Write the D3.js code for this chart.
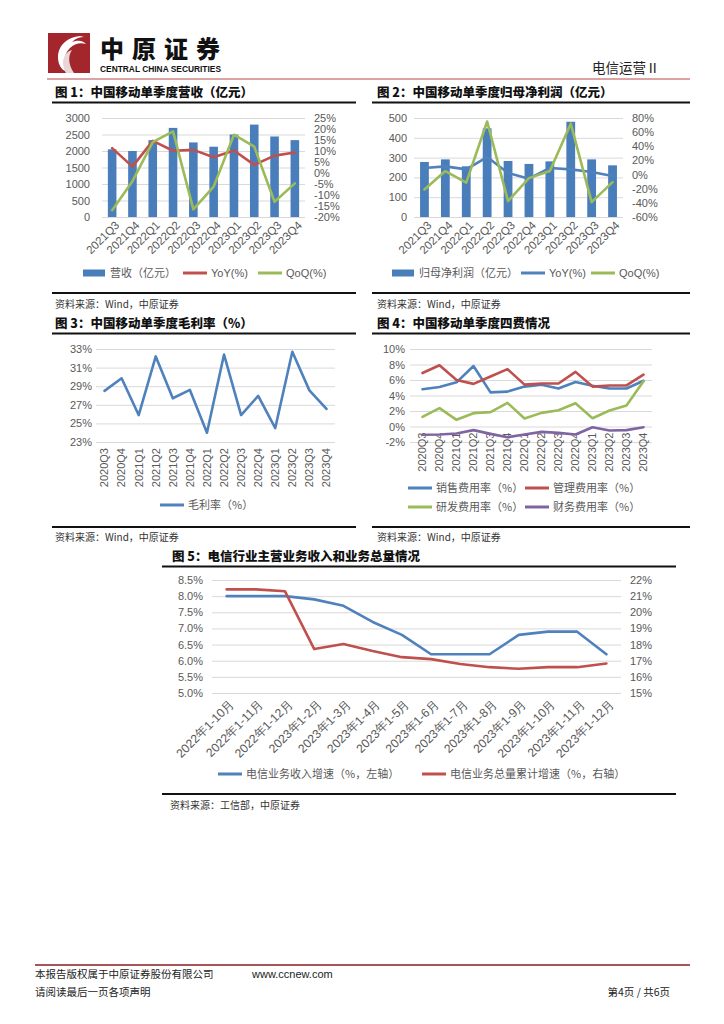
<!DOCTYPE html>
<html><head><meta charset="utf-8">
<script src="https://cdn.jsdelivr.net/npm/d3@7"></script>
<style>
body{margin:0;background:#fff;}
</style>
</head><body><svg id="page" width="724" height="1024"></svg>
<script>
// ---------- DATA ----------
const quartersA = ["2021Q3","2021Q4","2022Q1","2022Q2","2022Q3","2022Q4","2023Q1","2023Q2","2023Q3","2023Q4"];
const revenue = [2050,2000,2330,2700,2260,2130,2500,2800,2440,2330];
const revenueYoY = [11.3,2.9,14.6,10.1,10.5,7.2,10.2,3.7,7.9,9.3];
const revenueQoQ = [-16.9,-3.7,14.0,18.9,-16.5,-6.2,17.4,12.0,-13.1,-4.7];

const netProfit = [278,291,256,448,283,268,281,481,291,261];
const profitYoY = [9.3,11.6,7.4,24.8,2.2,-5.8,9.3,7.4,3.6,-2.0];
const profitQoQ = [-21,5,-11.5,75,-37.5,-5,5,72,-39,-10.6];

const quartersB = ["2020Q3","2020Q4","2021Q1","2021Q2","2021Q3","2021Q4","2022Q1","2022Q2","2022Q3","2022Q4","2023Q1","2023Q2","2023Q3","2023Q4"];
const grossMargin = [28.5,29.85,25.9,32.2,27.7,28.6,24.0,32.4,25.9,27.95,24.5,32.7,28.55,26.55];

const sellingRate = [4.8,5.1,5.7,7.8,4.4,4.5,5.15,5.4,4.9,5.75,5.25,4.9,4.9,5.9];
const adminRate = [6.9,7.9,6.0,5.5,6.45,7.4,5.4,5.55,5.55,7.05,5.15,5.3,5.3,6.7];
const rdRate = [1.25,2.37,0.86,1.72,1.85,3.05,1.03,1.76,2.1,3.0,1.07,2.06,2.7,5.85];
const financeRate = [-1.07,-1.03,-0.9,-0.47,-0.95,-1.38,-1.03,-0.69,-0.82,-1.03,-0.09,-0.52,-0.47,-0.09];

const months = ["2022年1-10月","2022年1-11月","2022年1-12月","2023年1-2月","2023年1-3月","2023年1-4月","2023年1-5月","2023年1-6月","2023年1-7月","2023年1-8月","2023年1-9月","2023年1-10月","2023年1-11月","2023年1-12月"];
const telecomRevenueGrowth = [8.0,8.0,8.0,7.9,7.7,7.2,6.8,6.2,6.2,6.2,6.8,6.9,6.9,6.2];
const telecomVolumeGrowth = [21.42,21.42,21.3,17.72,18.03,17.6,17.22,17.1,16.8,16.6,16.5,16.6,16.6,16.83];

const ticksRevenue = [0,500,1000,1500,2000,2500,3000];
const ticksRevPct = [-20,-15,-10,-5,0,5,10,15,20,25];
const ticksProfit = [0,100,200,300,400,500];
const ticksProfitPct = [-60,-40,-20,0,20,40,60,80];
const ticksMargin = [23,25,27,29,31,33];
const ticksFee = [-2,0,2,4,6,8,10];
const ticksLeft5 = [5.0,5.5,6.0,6.5,7.0,7.5,8.0,8.5];
const ticksRight5 = [15,16,17,18,19,20,21,22];

// ---------- STYLE ----------
const C = {bar:"#4A7EBB", red:"#C0504D", green:"#9BBB59", blue:"#4F81BD", purple:"#8064A2", grid:"#D9D9D9", txt:"#595959"};
const LAT = '"Liberation Sans", Arial, sans-serif';
const CJK = '"Noto Sans CJK SC", sans-serif';
const svg = d3.select("#page");
svg.append("rect").attr("width",724).attr("height",1024).attr("fill","#fff");

// ---------- HEADER ----------
svg.append("rect").attr("x",48).attr("y",33).attr("width",42).attr("height",40).attr("fill","#A3262C");
svg.append("path").attr("d","M80,36 C62,38 54,52 60,66 C63,72 70,73 74,73 L70,73 C64,66 62,56 70,48 C74,44 80,42 86,44 C82,40 78,40 72,42 C76,38 80,37 84,37 Z").attr("fill","#fff");
svg.append("path").attr("d","M66,73 C60,62 64,52 72,50 C68,56 68,64 74,73 Z").attr("fill","#e9d6d6");
svg.append("text").attr("x",100).attr("y",58).text("中原证券").attr("font-family",CJK).attr("font-weight",900).attr("font-size",24).attr("letter-spacing",8).attr("fill","#111");
svg.append("text").attr("x",100).attr("y",72).text("CENTRAL CHINA SECURITIES").attr("font-family",LAT).attr("font-weight","bold").attr("font-size",8.4).attr("fill","#111");
svg.append("text").attr("x",592).attr("y",73).text("电信运营Ⅱ").attr("font-family",CJK).attr("font-size",13.5).attr("fill","#222");
svg.append("line").attr("x1",47).attr("x2",690).attr("y1",79).attr("y2",79).attr("stroke","#B8484B").attr("stroke-width",1.2);

// ---------- helpers ----------
function hline(x1,x2,y,w){ svg.append("line").attr("x1",x1).attr("x2",x2).attr("y1",y).attr("y2",y).attr("stroke","#111").attr("stroke-width",w); }
function title(x,y,t){ svg.append("text").attr("x",x).attr("y",y).text(t).attr("font-family",CJK).attr("font-weight",900).attr("font-size",12.5).attr("fill","#111"); }
function source(x,y,t){ svg.append("text").attr("x",x).attr("y",y).text(t).attr("font-family",CJK).attr("font-size",10).attr("fill","#333"); }
function styleAxis(a){
  a.attr("font-family",LAT).attr("font-size",11);
  a.select(".domain").remove();
  a.selectAll(".tick text").attr("fill",C.txt);
}
function leftGrid(y,x0,x1,ticks,fmt,gap){
  const a = svg.append("g").attr("transform",`translate(${x0},0)`)
    .call(d3.axisLeft(y).tickValues(ticks).tickFormat(fmt).tickSize(-(x1-x0)).tickPadding(gap));
  styleAxis(a);
  a.selectAll(".tick line").attr("stroke",C.grid).attr("stroke-width",1);
  return a;
}
function rightAxis(y,x1,ticks,fmt,gap){
  const a = svg.append("g").attr("transform",`translate(${x1},0)`)
    .call(d3.axisRight(y).tickValues(ticks).tickFormat(fmt).tickSize(0).tickPadding(gap));
  styleAxis(a);
  return a;
}
function catAxis(x,yPos,rot,dx,dy,size){
  const a = svg.append("g").attr("transform",`translate(0,${yPos})`)
    .call(d3.axisBottom(x).tickSize(0));
  styleAxis(a);
  a.attr("font-size",size||11);
  a.selectAll(".tick text").attr("x",0).attr("y",0).attr("dy","0.35em")
    .attr("text-anchor","end").attr("transform",`translate(${dx},${dy}) rotate(${rot})`);
  return a;
}
function line(x,y,data,color,w){
  svg.append("path").datum(data).attr("fill","none").attr("stroke",color).attr("stroke-width",w||2.6)
    .attr("stroke-linejoin","round").attr("stroke-linecap","round")
    .attr("d",d3.line().x((d,i)=>x(i)).y(d=>y(d)));
}
function legendLine(x,y,color,label,font){
  svg.append("line").attr("x1",x).attr("x2",x+24).attr("y1",y).attr("y2",y).attr("stroke",color).attr("stroke-width",3);
  svg.append("text").attr("x",x+28).attr("y",y+4).text(label).attr("font-family",font||CJK).attr("font-size",11).attr("fill",C.txt);
}
function legendBar(x,y,label){
  svg.append("rect").attr("x",x).attr("y",y-3.5).attr("width",22).attr("height",7).attr("fill",C.bar);
  svg.append("text").attr("x",x+27).attr("y",y+4).text(label).attr("font-family",CJK).attr("font-size",11).attr("fill",C.txt);
}
const pct = d=>d+"%";

// ---------- CHART 1 ----------
title(55,97,"图 1：中国移动单季度营收（亿元）");
hline(52,356,102.5,2);
{
  const x0=102,x1=305,yT=118,yB=217;
  const xc = d3.scaleBand().domain(quartersA).range([x0,x1]);
  const xi = i=>xc(quartersA[i])+xc.bandwidth()/2;
  const y = d3.scaleLinear().domain([0,3000]).range([yB,yT]);
  const y2 = d3.scaleLinear().domain([-20,25]).range([yB,yT]);
  leftGrid(y,x0,x1,ticksRevenue,d3.format("d"),12);
  rightAxis(y2,x1,ticksRevPct,pct,9);
  svg.append("g").selectAll("rect").data(revenue).join("rect")
    .attr("x",(d,i)=>xi(i)-4.3).attr("width",8.6).attr("y",d=>y(d)).attr("height",d=>yB-y(d)).attr("fill",C.bar);
  line(xi,y2,revenueYoY,C.red);
  line(xi,y2,revenueQoQ,C.green);
  catAxis(xc,yB,-45,5,6,11.5);
  legendBar(83,273,"营收（亿元）");
  legendLine(183,273,C.red,"YoY(%)",LAT);
  legendLine(258,273,C.green,"QoQ(%)",LAT);
}
hline(52,356,293,2);
source(55,308,"资料来源：Wind，中原证券");

// ---------- CHART 2 ----------
title(377,97,"图 2：中国移动单季度归母净利润（亿元）");
hline(372,690,102.5,2);
{
  const x0=414,x1=623,yT=118,yB=217;
  const xc = d3.scaleBand().domain(quartersA).range([x0,x1]);
  const xi = i=>xc(quartersA[i])+xc.bandwidth()/2;
  const y = d3.scaleLinear().domain([0,500]).range([yB,yT]);
  const y2 = d3.scaleLinear().domain([-60,80]).range([yB,yT]);
  leftGrid(y,x0,x1,ticksProfit,d3.format("d"),7);
  rightAxis(y2,x1,ticksProfitPct,pct,9);
  svg.append("g").selectAll("rect").data(netProfit).join("rect")
    .attr("x",(d,i)=>xi(i)-4.4).attr("width",8.8).attr("y",d=>y(d)).attr("height",d=>yB-y(d)).attr("fill",C.bar);
  line(xi,y2,profitYoY,C.blue);
  line(xi,y2,profitQoQ,C.green);
  catAxis(xc,yB,-45,5,6,11.5);
  legendBar(392,273,"归母净利润（亿元）");
  legendLine(521,273,C.blue,"YoY(%)",LAT);
  legendLine(591,273,C.green,"QoQ(%)",LAT);
}
hline(372,690,293,2);
source(377,308,"资料来源：Wind，中原证券");

// ---------- CHART 3 ----------
title(55,328,"图 3：中国移动单季度毛利率（%）");
hline(52,356,333.5,2);
{
  const x0=96,x1=335,yT=349,yB=442;
  const xc = d3.scaleBand().domain(quartersB).range([x0,x1]);
  const xi = i=>xc(quartersB[i])+xc.bandwidth()/2;
  const y = d3.scaleLinear().domain([23,33]).range([yB,yT]);
  leftGrid(y,x0,x1,ticksMargin,pct,4);
  line(xi,y,grossMargin,C.blue,2.6);
  catAxis(xc,yB+6,-90,0,0);
  legendLine(160,505,C.blue,"毛利率（%）");
}

// ---------- CHART 4 ----------
title(377,328,"图 4：中国移动单季度四费情况");
hline(372,690,333.5,2);
{
  const x0=410,x1=652,yT=349,yB=442;
  const xc = d3.scaleBand().domain(quartersB).range([x0+4,x1]);
  const xi = i=>xc(quartersB[i])+xc.bandwidth()/2;
  const y = d3.scaleLinear().domain([-2,10]).range([yB,yT]);
  leftGrid(y,x0,x1,ticksFee,pct,5);
  catAxis(xc,y(0)+6,-90,0,0);
  line(xi,y,sellingRate,C.blue);
  line(xi,y,adminRate,C.red);
  line(xi,y,rdRate,C.green);
  line(xi,y,financeRate,C.purple);
  legendLine(408,488,C.blue,"销售费用率（%）");
  legendLine(525,488,C.red,"管理费用率（%）");
  legendLine(408,507,C.green,"研发费用率（%）");
  legendLine(525,507,C.purple,"财务费用率（%）");
}
hline(52,356,527,2);
hline(372,690,527,2);
source(55,541,"资料来源：Wind，中原证券");
source(377,541,"资料来源：Wind，中原证券");

// ---------- CHART 5 ----------
title(172,561,"图 5：电信行业主营业务收入和业务总量情况");
hline(162,676,566.5,2);
{
  const x0=212,x1=621,yT=580,yB=693;
  const xc = d3.scaleBand().domain(months).range([x0,x1]);
  const xi = i=>xc(months[i])+xc.bandwidth()/2;
  const y = d3.scaleLinear().domain([5,8.5]).range([yB,yT]);
  const y2 = d3.scaleLinear().domain([15,22]).range([yB,yT]);
  leftGrid(y,x0,x1,ticksLeft5,d=>d.toFixed(1)+"%",9);
  rightAxis(y2,x1,ticksRight5,pct,9);
  line(xi,y,telecomRevenueGrowth,C.blue,2.6);
  line(xi,y2,telecomVolumeGrowth,C.red,2.6);
  catAxis(xc,yB,-45,5,9,12.2);
  legendLine(218,774,C.blue,"电信业务收入增速（%，左轴）");
  legendLine(422,774,C.red,"电信业务总量累计增速（%，右轴）");
}
hline(162,676,794,2);
source(170,809,"资料来源：工信部，中原证券");

// ---------- FOOTER ----------
svg.append("line").attr("x1",35).attr("x2",690).attr("y1",965).attr("y2",965).attr("stroke","#8E1B1F").attr("stroke-width",1.5);
svg.append("text").attr("x",35).attr("y",978).text("本报告版权属于中原证券股份有限公司").attr("font-family",CJK).attr("font-size",10.5).attr("fill","#222");
svg.append("text").attr("x",252).attr("y",978).text("www.ccnew.com").attr("font-family",LAT).attr("font-size",11).attr("fill","#222");
svg.append("text").attr("x",35).attr("y",996).text("请阅读最后一页各项声明").attr("font-family",CJK).attr("font-size",10.5).attr("fill","#222");
svg.append("text").attr("x",670).attr("y",996).attr("text-anchor","end").text("第4页 / 共6页").attr("font-family",CJK).attr("font-size",10.5).attr("fill","#222");
</script>
</body></html>
